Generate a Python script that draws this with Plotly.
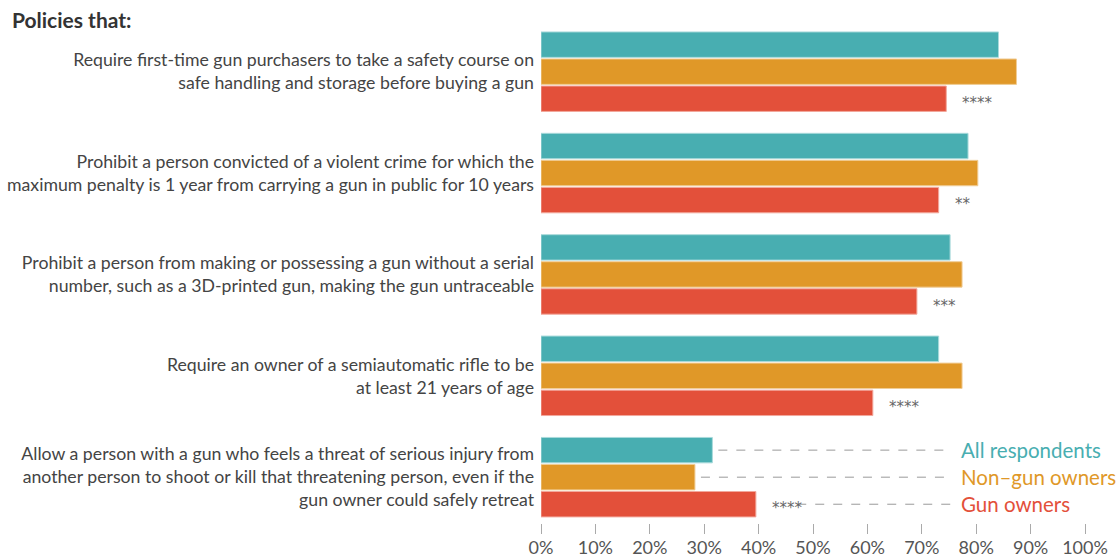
import plotly.graph_objects as go

policies = [
    "Require first-time gun purchasers to take a safety course on<br>safe handling and storage before buying a gun",
    "Prohibit a person convicted of a violent crime for which the<br>maximum penalty is 1 year from carrying a gun in public for 10 years",
    "Prohibit a person from making or possessing a gun without a serial<br>number, such as a 3D-printed gun, making the gun untraceable",
    "Require an owner of a semiautomatic rifle to be<br>at least 21 years of age",
    "Allow a person with a gun who feels a threat of serious injury from<br>another person to shoot or kill that threatening person, even if the<br>gun owner could safely retreat",
]
series_names = ["All respondents", "Non–gun owners", "Gun owners"]
all_resp = [84.1, 78.5, 75.2, 73.1, 31.5]
non_owners = [87.4, 80.3, 77.4, 77.4, 28.3]
gun_owners = [74.5, 73.1, 69.1, 61.0, 39.5]
stars = ["****", "**", "***", "****", "****"]
x_ticks = [0, 10, 20, 30, 40, 50, 60, 70, 80, 90, 100]

colors = ["#48AEB1", "#E09828", "#E3503A"]
edge = ["#A9DADB", "#F0CD96", "#F2A89C"]
FONT = "Lato"

W, H = 1116, 557
L, R, T, B = 541, 31, 21, 34
plot_w = W - L - R
plot_h = H - T - B

fig = go.Figure()
for name, vals, c, e in zip(series_names, [all_resp, non_owners, gun_owners], colors, edge):
    fig.add_trace(go.Bar(
        y=policies, x=vals, name=name, orientation="h",
        marker=dict(color=c, line=dict(color=e, width=1)),
        hoverinfo="x+name",
    ))

# significance stars next to gun-owner bars
for i, (v, s) in enumerate(zip(gun_owners, stars)):
    fig.add_annotation(x=v, y=i + 0.2667 + 0.04, xref="x", yref="y", text=s,
                       showarrow=False, xanchor="left", xshift=14,
                       font=dict(family="DejaVu Sans", size=15, color="#666"))

# direct legend on the last group
last = len(policies) - 1
offsets = [-0.2667, 0.0, 0.2667]
vals_last = [all_resp[last], non_owners[last], gun_owners[last]]
label_x = 76.9
line_end = 75.6
for k, (name, v, c, off) in enumerate(zip(series_names, vals_last, colors, offsets)):
    start = v + (7.6 if k == 2 else 1.1)
    fig.add_shape(type="line", xref="x", yref="y", x0=start, x1=line_end,
                  y0=last + off, y1=last + off,
                  line=dict(color="#999", width=1, dash="dash"))
    fig.add_annotation(x=label_x, y=last + off, xref="x", yref="y", text=name,
                       showarrow=False, xanchor="left", yanchor="middle",
                       font=dict(family=FONT, size=20.5, color=c))

# title
fig.add_annotation(x=(10 - L) / plot_w, y=1 + (T - 19) / plot_h, xref="paper", yref="paper",
                   text="<b>Policies that:</b>", showarrow=False, xanchor="left", yanchor="middle",
                   font=dict(family=FONT, size=21, color="#333"))

fig.update_layout(
    width=W, height=H,
    margin=dict(l=L, r=R, t=T, b=B),
    paper_bgcolor="white", plot_bgcolor="white",
    barmode="group", bargap=0.2, bargroupgap=0.06,
    showlegend=False,
    font=dict(family=FONT, color="#444"),
    xaxis=dict(range=[0, 100], tickvals=x_ticks, ticktext=[f"{t}%" for t in x_ticks],
               showgrid=False, zeroline=False, showline=False, automargin=False,
               ticks="outside", ticklen=10, tickcolor="#aaa", tickwidth=1,
               ticklabelstandoff=-2,
               tickfont=dict(family=FONT, size=18, color="#555")),
    yaxis=dict(range=[len(policies) - 1 + 0.452, -0.5], showgrid=False, zeroline=False,
               showline=False, automargin=False, ticks="", ticklabelstandoff=6,
               tickfont=dict(family=FONT, size=17.7, color="#444")),
)

fig.write_html("out.html", config={"displayModeBar": False},
               post_script="document.body.style.margin='0';document.body.style.overflow='hidden';")
